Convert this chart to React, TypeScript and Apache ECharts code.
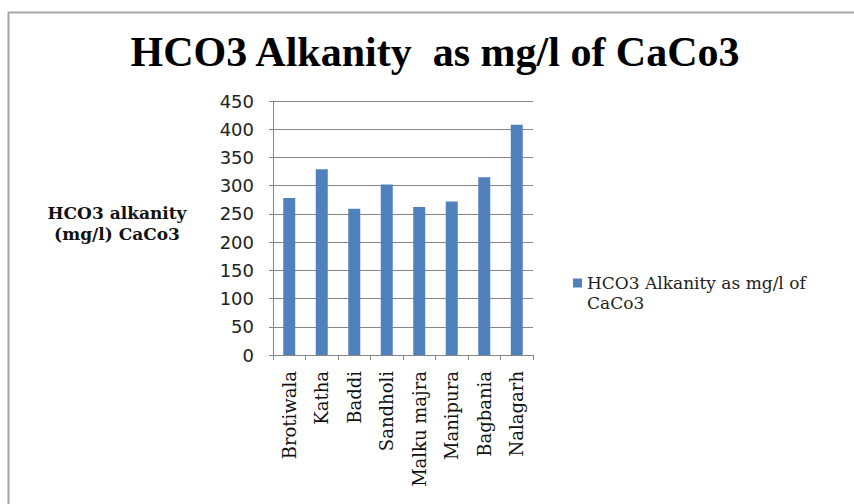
import React, { useEffect, useRef } from "react";
import * as echarts from "echarts";

const categories = ["Brotiwala", "Katha", "Baddi", "Sandholi", "Malku majra", "Manipura", "Bagbania", "Nalagarh"];
const values = [278, 329, 259, 302, 262, 272, 315, 408];
const seriesName = "HCO3 Alkanity as mg/l of CaCo3";
const titleText = "HCO3 Alkanity  as mg/l of CaCo3";
const yAxisTitle = "HCO3 alkanity\n(mg/l) CaCo3";

export default function App() {
  const ref = useRef<HTMLDivElement>(null);
  useEffect(() => {
    if (!ref.current) return;
    const chart = echarts.init(ref.current, null, { renderer: "svg" });
    chart.setOption({
      animation: false,
      backgroundColor: "#ffffff",
      title: {
        text: titleText,
        left: 430,
        top: 26,
        textAlign: "center",
        textStyle: {
          fontFamily: "Liberation Serif",
          fontWeight: "bold",
          fontSize: 42,
          color: "#000000",
        },
      },
      legend: {
        left: 573,
        top: 253,
        padding: 0,
        orient: "vertical",
        itemWidth: 9,
        itemHeight: 9,
        itemGap: 4,
        icon: "rect",
        formatter: () => "\nHCO3 Alkanity as mg/l of\nCaCo3",
        textStyle: {
          fontFamily: "DejaVu Serif",
          fontSize: 17,
          color: "#222222",
          lineHeight: 20,
        },
        data: [seriesName],
      },
      grid: { left: 273, right: 321, top: 101, bottom: 149, containLabel: false },
      xAxis: {
        type: "category",
        data: categories,
        axisLine: { show: true, lineStyle: { color: "#868686", width: 1 } },
        axisTick: { show: true, alignWithLabel: false, length: 5, lineStyle: { color: "#868686" } },
        axisLabel: {
          rotate: 90,
          interval: 0,
          margin: 16,
          fontFamily: "DejaVu Serif",
          fontSize: 18,
          color: "#111111",
        },
      },
      yAxis: {
        type: "value",
        min: 0,
        max: 450,
        interval: 50,
        axisLine: { show: true, lineStyle: { color: "#868686", width: 1 } },
        axisTick: { show: true, length: 4, inside: false, lineStyle: { color: "#868686" } },
        splitLine: { show: true, lineStyle: { color: "#868686", width: 1 } },
        axisLabel: {
          margin: 19,
          fontFamily: "DejaVu Sans",
          fontSize: 18,
          color: "#222222",
        },
      },
      series: [
        {
          name: seriesName,
          type: "bar",
          data: values,
          barWidth: 12,
          itemStyle: { color: "#4f81bd" },
        },
      ],
      graphic: [
        {
          type: "rect",
          shape: { x: 8.5, y: 12.5, width: 900, height: 600 },
          style: { fill: "none", stroke: "#a6a6a6", lineWidth: 2 },
          silent: true,
        },
        {
          type: "text",
          x: 117,
          y: 223,
          style: {
            text: yAxisTitle,
            fontFamily: "DejaVu Serif",
            fontWeight: "bold",
            fontSize: 17,
            lineHeight: 21,
            fill: "#111111",
            align: "center",
            verticalAlign: "middle",
          },
        },
      ],
    });
    return () => chart.dispose();
  }, []);
  return <div ref={ref} style={{ width: 854, height: 504, position: "absolute", left: 0, top: 0 }} />;
}
